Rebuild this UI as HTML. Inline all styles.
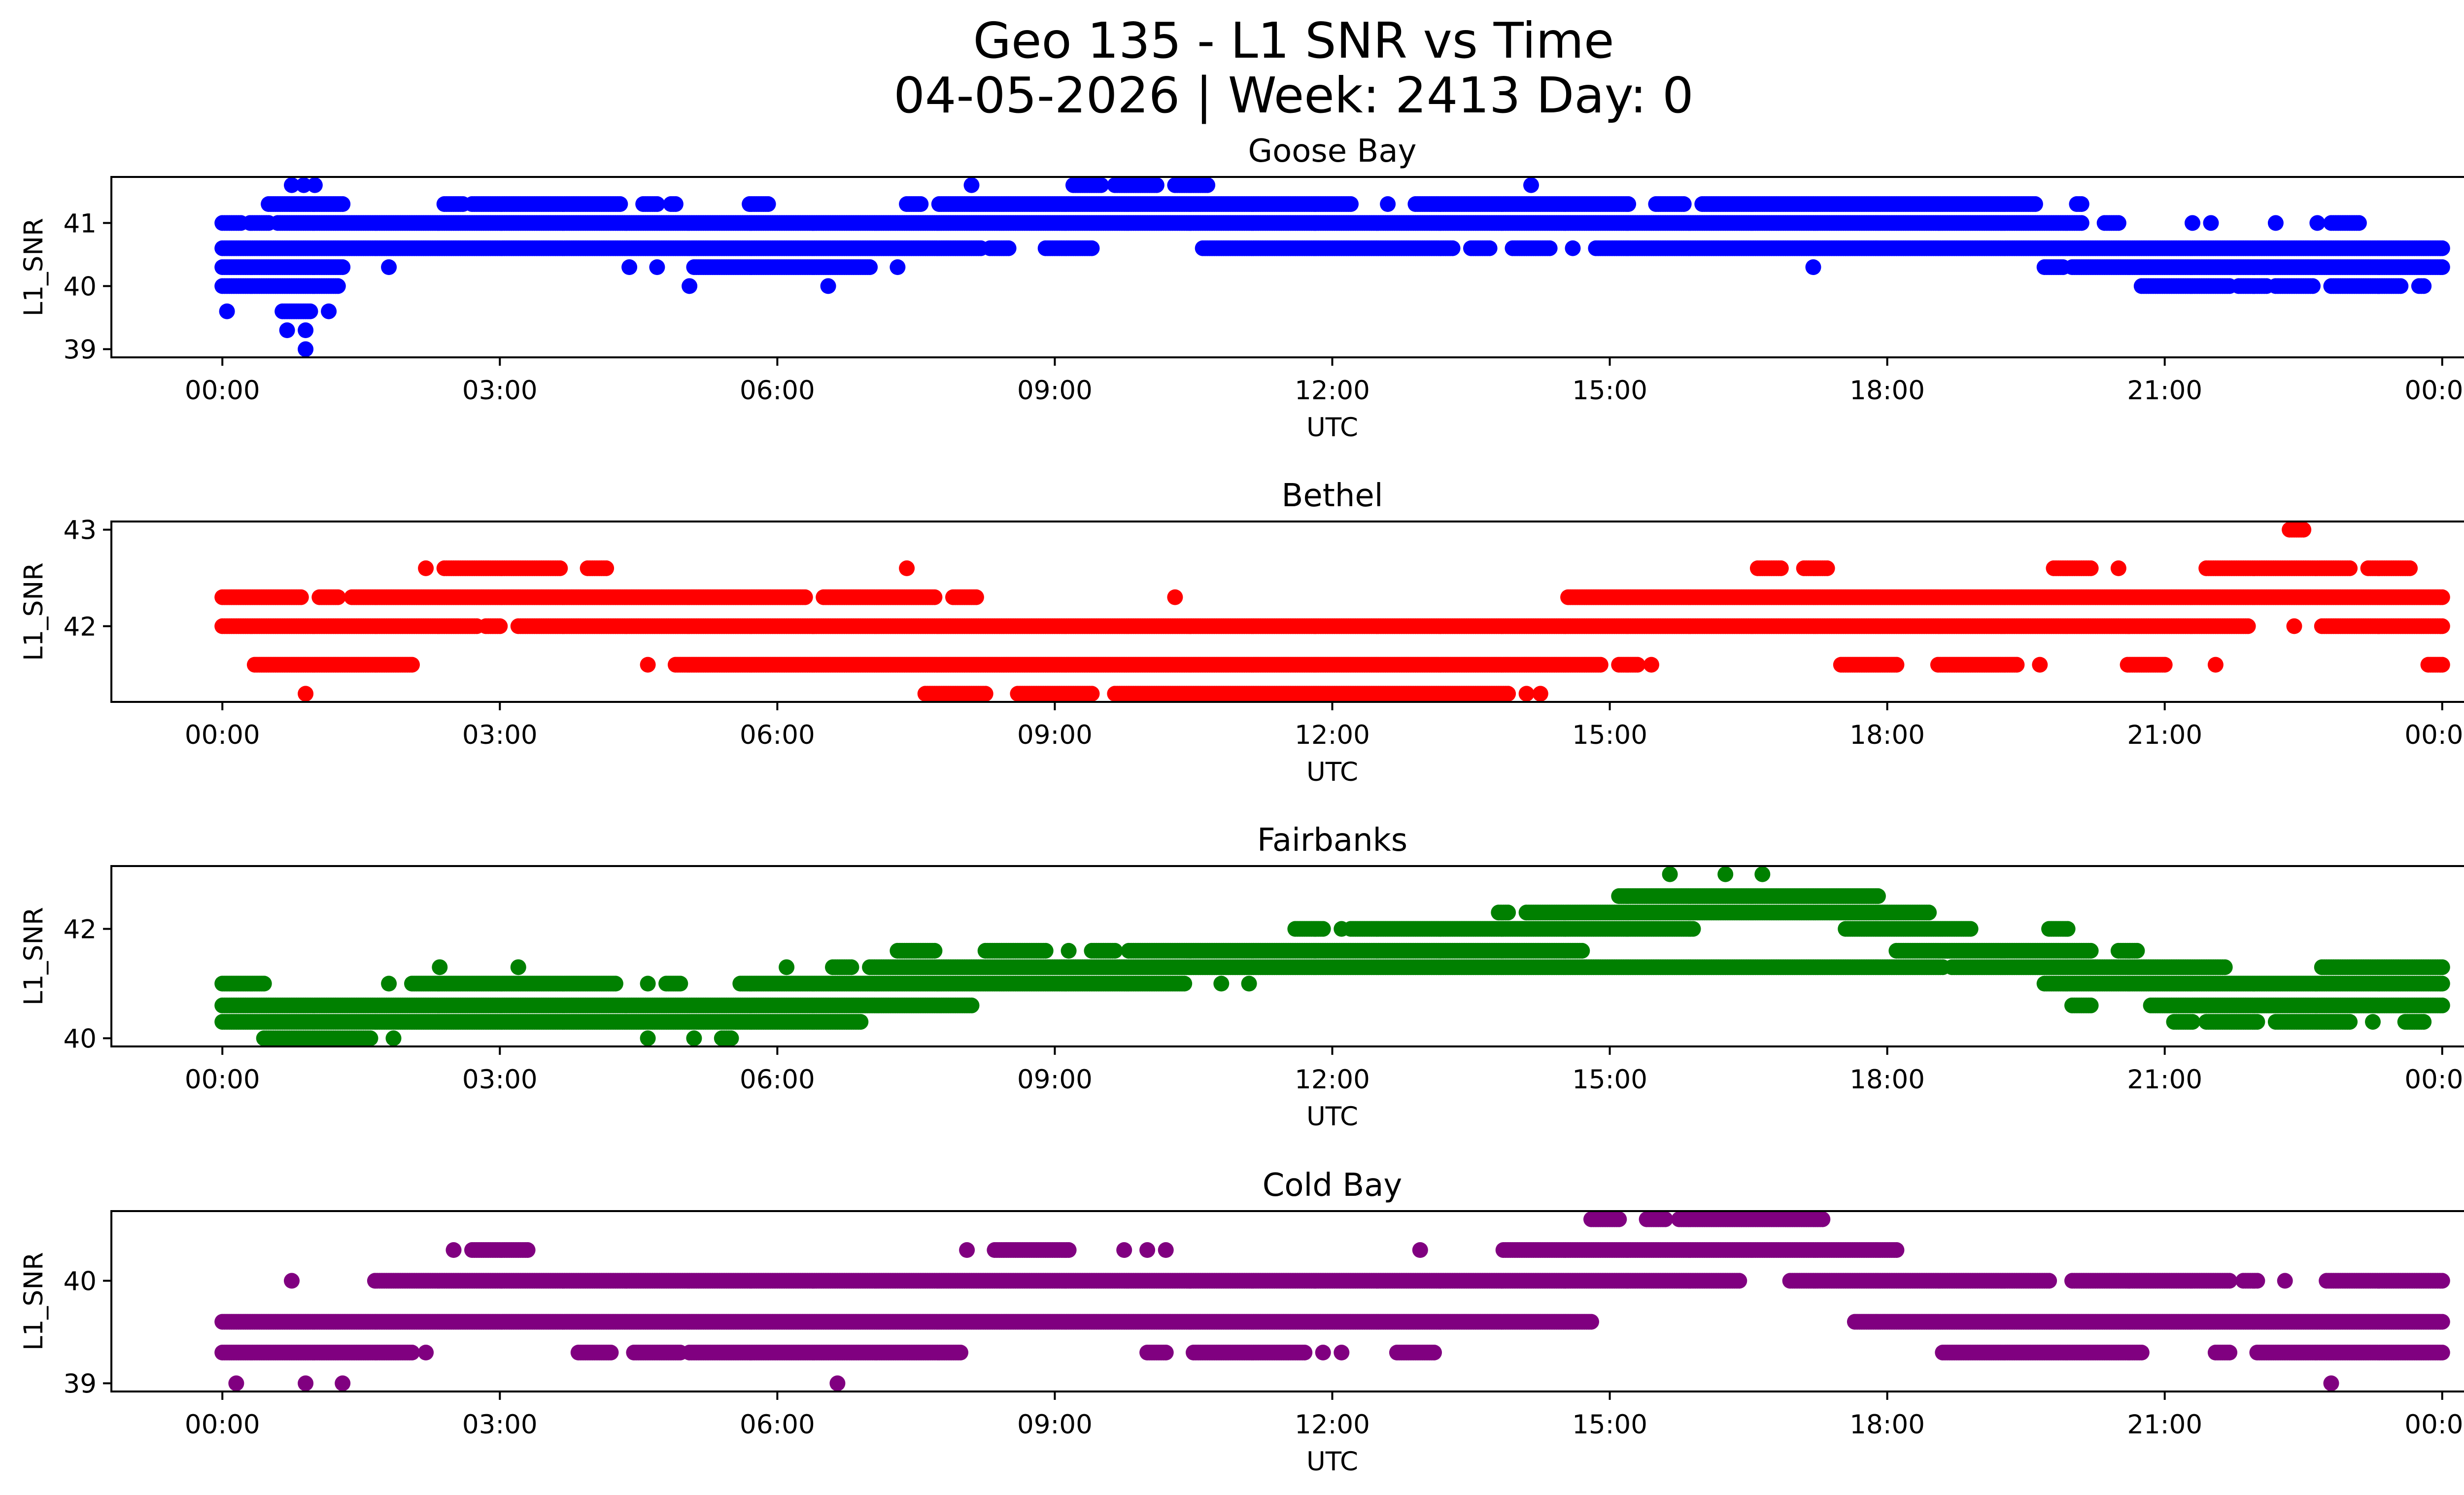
<!DOCTYPE html>
<html><head><meta charset="utf-8"><title>Geo 135 - L1 SNR vs Time</title>
<style>html,body{margin:0;padding:0;background:#fff;width:5225px;height:3033px;overflow:hidden}svg{display:block}text{font-family:"DejaVu Sans","Liberation Sans",sans-serif;fill:#000}</style>
</head><body>
<svg id="fig" xmlns="http://www.w3.org/2000/svg" width="5225" height="3033" viewBox="0 0 5225 3033">
<rect width="5225" height="3033" fill="#fff"/>
<text x="2625" y="117" font-size="100" text-anchor="middle">Geo 135 - L1 SNR vs Time</text>
<text x="2625" y="228" font-size="100" text-anchor="middle">04-05-2026 | Week: 2413 Day: 0</text>
</svg>
<script>
// Shared axis data
const xTickHours = [0, 3, 6, 9, 12, 15, 18, 21, 24];
const xTickLabels = ["00:00","03:00","06:00","09:00","12:00","15:00","18:00","21:00","00:00"];
const stationNames = ["Goose Bay","Bethel","Fairbanks","Cold Bay"];
const stationColors = ["#0000ff","#ff0000","#008000","#800080"];
const yTicksGoose = [39, 40, 41];
const yTicksBethel = [42, 43];
const yTicksFairbanks = [40, 42];
const yTicksCold = [39, 40];
// runs: [SNR value, start hour, end hour] (single points have start == end)
const gooseRuns = [
 [41.6,0.75,0.75],[41.6,0.88,0.88],[41.6,1.0,1.0],[41.6,8.1,8.1],[41.6,9.2,9.5],[41.6,9.65,10.1],[41.6,10.3,10.65],[41.6,14.15,14.15],
 [41.3,0.5,1.3],[41.3,2.4,2.6],[41.3,2.7,4.3],[41.3,4.55,4.7],[41.3,4.85,4.9],[41.3,5.7,5.9],[41.3,7.4,7.55],[41.3,7.75,12.2],[41.3,12.6,12.6],[41.3,12.9,15.2],[41.3,15.5,15.8],[41.3,16.0,19.6],[41.3,20.05,20.1],
 [41.0,0.0,0.2],[41.0,0.3,0.5],[41.0,0.6,20.1],[41.0,20.35,20.5],[41.0,21.3,21.3],[41.0,21.5,21.5],[41.0,22.2,22.2],[41.0,22.65,22.65],[41.0,22.8,23.1],
 [40.6,0.0,8.2],[40.6,8.3,8.5],[40.6,8.9,9.4],[40.6,10.6,13.3],[40.6,13.5,13.7],[40.6,13.95,14.35],[40.6,14.6,14.6],[40.6,14.85,24.0],
 [40.3,0.0,1.3],[40.3,1.8,1.8],[40.3,4.4,4.4],[40.3,4.7,4.7],[40.3,5.1,7.0],[40.3,7.3,7.3],[40.3,17.2,17.2],[40.3,19.7,19.9],[40.3,20.0,24.0],
 [40.0,0.0,1.25],[40.0,5.05,5.05],[40.0,6.55,6.55],[40.0,20.75,21.7],[40.0,21.8,22.1],[40.0,22.2,22.6],[40.0,22.8,23.55],[40.0,23.75,23.8],
 [39.6,0.05,0.05],[39.6,0.65,0.95],[39.6,1.15,1.15],
 [39.3,0.7,0.7],[39.3,0.9,0.9],
 [39.0,0.9,0.9]
];
const bethelRuns = [
 [43.0,22.35,22.5],
 [42.6,2.2,2.2],[42.6,2.4,3.65],[42.6,3.95,4.15],[42.6,7.4,7.4],[42.6,16.6,16.85],[42.6,17.1,17.35],[42.6,19.8,20.2],[42.6,20.5,20.5],[42.6,21.45,23.0],[42.6,23.2,23.65],
 [42.3,0.0,0.85],[42.3,1.05,1.25],[42.3,1.4,6.3],[42.3,6.5,7.7],[42.3,7.9,8.15],[42.3,10.3,10.3],[42.3,14.55,24.0],
 [42.0,0.0,2.75],[42.0,2.85,3.0],[42.0,3.2,21.9],[42.0,22.4,22.4],[42.0,22.7,24.0],
 [41.6,0.35,2.05],[41.6,4.6,4.6],[41.6,4.9,14.9],[41.6,15.1,15.3],[41.6,15.45,15.45],[41.6,17.5,18.1],[41.6,18.55,19.4],[41.6,19.65,19.65],[41.6,20.6,21.0],[41.6,21.55,21.55],[41.6,23.85,24.0],
 [41.3,0.9,0.9],[41.3,7.6,8.25],[41.3,8.6,9.4],[41.3,9.65,13.9],[41.3,14.1,14.1],[41.3,14.25,14.25]
];
const fairbanksRuns = [
 [43.0,15.65,15.65],[43.0,16.25,16.25],[43.0,16.65,16.65],
 [42.6,15.1,17.9],
 [42.3,13.8,13.9],[42.3,14.1,18.45],
 [42.0,11.6,11.9],[42.0,12.1,12.1],[42.0,12.2,15.9],[42.0,17.55,18.9],[42.0,19.75,19.95],
 [41.6,7.3,7.7],[41.6,8.25,8.9],[41.6,9.15,9.15],[41.6,9.4,9.65],[41.6,9.8,14.7],[41.6,18.1,20.2],[41.6,20.5,20.7],
 [41.3,2.35,2.35],[41.3,3.2,3.2],[41.3,6.1,6.1],[41.3,6.6,6.8],[41.3,7.0,18.6],[41.3,18.7,21.65],[41.3,22.7,24.0],
 [41.0,0.0,0.45],[41.0,1.8,1.8],[41.0,2.05,4.25],[41.0,4.6,4.6],[41.0,4.8,4.95],[41.0,5.6,10.4],[41.0,10.8,10.8],[41.0,11.1,11.1],[41.0,19.7,24.0],
 [40.6,0.0,8.1],[40.6,20.0,20.2],[40.6,20.85,24.0],
 [40.3,0.0,6.9],[40.3,21.1,21.3],[40.3,21.45,22.0],[40.3,22.2,23.0],[40.3,23.25,23.25],[40.3,23.6,23.8],
 [40.0,0.45,1.6],[40.0,1.85,1.85],[40.0,4.6,4.6],[40.0,5.1,5.1],[40.0,5.4,5.5]
];
const coldRuns = [
 [40.6,14.8,15.1],[40.6,15.4,15.6],[40.6,15.75,17.3],
 [40.3,2.5,2.5],[40.3,2.7,3.3],[40.3,8.05,8.05],[40.3,8.35,9.15],[40.3,9.75,9.75],[40.3,10.0,10.0],[40.3,10.2,10.2],[40.3,12.95,12.95],[40.3,13.85,18.1],
 [40.0,0.75,0.75],[40.0,1.65,16.4],[40.0,16.95,19.75],[40.0,20.0,21.7],[40.0,21.85,22.0],[40.0,22.3,22.3],[40.0,22.75,24.0],
 [39.6,0.0,14.8],[39.6,17.65,24.0],
 [39.3,0.0,2.05],[39.3,2.2,2.2],[39.3,3.85,4.2],[39.3,4.45,4.95],[39.3,5.05,7.98],[39.3,10.0,10.2],[39.3,10.5,11.7],[39.3,11.9,11.9],[39.3,12.1,12.1],[39.3,12.7,13.1],[39.3,18.6,20.75],[39.3,21.55,21.7],[39.3,22.0,24.0],
 [39.0,0.15,0.15],[39.0,0.9,0.9],[39.0,1.3,1.3],[39.0,6.65,6.65],[39.0,22.8,22.8]
];
const panelRuns = [gooseRuns, bethelRuns, fairbanksRuns, coldRuns];
const panelYTicks = [yTicksGoose, yTicksBethel, yTicksFairbanks, yTicksCold];
const panelYLims = [[38.87,41.73],[41.215,43.085],[39.85,43.15],[38.92,40.68]];

const NS = "http://www.w3.org/2000/svg";
const svg = document.getElementById("fig");
const AX_L = 226, AX_R = 5181, AX_H = 366;
const AX_TOPS = [359, 1058, 1757, 2457];
const X_MIN = -1.2, X_MAX = 25.2;
function mk(tag, attrs, parent){const e=document.createElementNS(NS,tag);for(const k in attrs)e.setAttribute(k,attrs[k]);(parent||svg).appendChild(e);return e;}
function xScale(h){return AX_L + (h - X_MIN)/(X_MAX - X_MIN)*(AX_R-AX_L);}

for (let p=0;p<4;p++){
  const top = AX_TOPS[p], bot = top + AX_H;
  const [y0,y1] = panelYLims[p];
  const yScale = v => bot - (v - y0)/(y1 - y0)*AX_H;
  const g = mk("g",{});
  
  
  const t = mk("text",{x:(AX_L+AX_R)/2, y:top-31, "font-size":64, "text-anchor":"middle"}, g);
  t.textContent = stationNames[p];
  
  
  const pts = mk("g",{fill:stationColors[p]}, g);
  
  
  for (const r of panelRuns[p]){
    const [v,s,e] = r;
    const step = 0.025;
    const n = Math.max(1, Math.round((e-s)/step)+1);
    for (let i=0;i<n;i++){
      const h = n===1 ? s : s + (e-s)*i/(n-1);
      const c = mk("circle",{cx:xScale(h).toFixed(1), cy:yScale(v).toFixed(1), r:16}, pts);
      
      
    }
  }
  const fr = mk("rect",{x:AX_L,y:top,width:AX_R-AX_L,height:AX_H,fill:"none",stroke:"#000","stroke-width":4}, g);
  
  
  xTickHours.forEach((h,i)=>{
    const x = xScale(h);
    const tk = mk("line",{x1:x,x2:x,y1:bot,y2:bot+17,stroke:"#000","stroke-width":4}, g);
    
    
    const tl = mk("text",{x:x,y:bot+85,"font-size":53,"text-anchor":"middle"}, g);
    tl.textContent = xTickLabels[i];
    
    
  });
  const xl = mk("text",{x:(AX_L+AX_R)/2,y:bot+160,"font-size":53,"text-anchor":"middle"}, g);
  xl.textContent = "UTC";
  
  
  panelYTicks[p].forEach(v=>{
    const y = yScale(v);
    const tk = mk("line",{x1:AX_L-17,x2:AX_L,y1:y,y2:y,stroke:"#000","stroke-width":4}, g);
    
    
    const tl = mk("text",{x:AX_L-30,y:y+19,"font-size":53,"text-anchor":"end"}, g);
    tl.textContent = String(v);
    
    
  });
  const cy = top + AX_H/2;
  const yl = mk("text",{x:86,y:cy,"font-size":53,"text-anchor":"middle",transform:`rotate(-90 86 ${cy})`}, g);
  yl.textContent = "L1_SNR";
  
  
}
</script>
</body></html>
